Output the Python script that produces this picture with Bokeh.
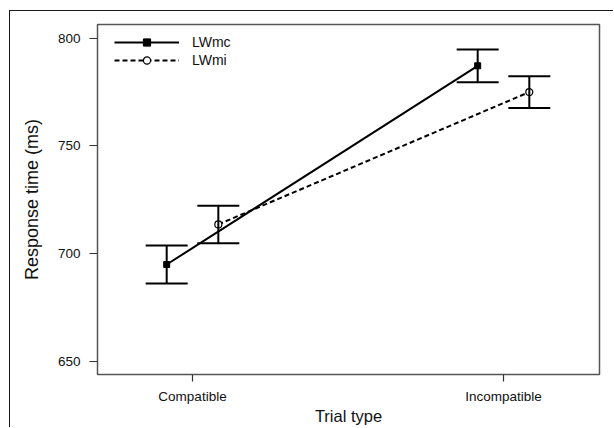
from bokeh.plotting import figure
from bokeh.models import (ColumnDataSource, Whisker, TeeHead, Legend, LegendItem,
                          FixedTicker, Range1d)
from bokeh.embed import file_html
from bokeh.resources import INLINE

# ---- data ----
categories = ["Compatible", "Incompatible"]
cat_pos = [1, 2]
lwmc_mean = [695.0, 787.2]
lwmc_err = [8.85, 7.6]
lwmi_mean = [713.6, 775.0]
lwmi_err = [8.7, 7.35]
y_ticks = [650, 700, 750, 800]
dodge = 0.083

FONT = "Liberation Sans"

p = figure(width=604, height=417,
           x_range=Range1d(0.6945, 2.3087), y_range=Range1d(643.97, 806.36),
           output_backend="svg", toolbar_location=None,
           min_border_left=87, min_border_right=15, min_border_top=13,
           min_border_bottom=54)
# outer figure border (only top/left edges are visible in the reference)
p.styles = {"margin-left": "9px", "margin-top": "10px",
            "border-left": "1px solid #1a1a1a", "border-top": "1px solid #1a1a1a"}

p.grid.visible = False
p.outline_line_color = "#555555"
p.outline_line_width = 1.5
p.background_fill_color = "white"
p.border_fill_color = "white"

# axes
for ax in (p.xaxis[0], p.yaxis[0]):
    ax.axis_line_color = None
    ax.major_tick_line_color = "#333333"
    ax.major_tick_line_width = 1.2
    ax.major_tick_in = 0
    ax.minor_tick_line_color = None
    ax.major_label_text_font = FONT
    ax.major_label_text_font_size = "13.5px"
    ax.major_label_text_color = "#111111"
    ax.axis_label_text_font = FONT
    ax.axis_label_text_font_style = "normal"
    ax.axis_label_text_color = "#111111"

p.xaxis.ticker = FixedTicker(ticks=cat_pos)
p.xaxis.major_label_overrides = {pos: name for pos, name in zip(cat_pos, categories)}
p.xaxis.axis_label = "Trial type"
p.xaxis.axis_label_text_font_size = "16.5px"
p.xaxis.major_tick_out = 7
p.xaxis.major_label_standoff = 7
p.xaxis.axis_label_standoff = 0

p.yaxis.ticker = FixedTicker(ticks=y_ticks)
p.yaxis.axis_label = "Response time (ms)"
p.yaxis.axis_label_text_font_size = "18px"
p.yaxis.major_tick_out = 8
p.yaxis.major_label_standoff = 9
p.yaxis.axis_label_standoff = 13

# data sources
x_mc = [c - dodge for c in cat_pos]
x_mi = [c + dodge for c in cat_pos]
src_mc = ColumnDataSource(dict(x=x_mc, y=lwmc_mean,
                               upper=[m + e for m, e in zip(lwmc_mean, lwmc_err)],
                               lower=[m - e for m, e in zip(lwmc_mean, lwmc_err)]))
src_mi = ColumnDataSource(dict(x=x_mi, y=lwmi_mean,
                               upper=[m + e for m, e in zip(lwmi_mean, lwmi_err)],
                               lower=[m - e for m, e in zip(lwmi_mean, lwmi_err)]))

l_mc = p.line("x", "y", source=src_mc, line_color="black", line_width=2)
l_mi = p.line("x", "y", source=src_mi, line_color="black", line_width=2,
              line_dash="5 3")

for src in (src_mc, src_mi):
    w = Whisker(source=src, base="x", upper="upper", lower="lower",
                dimension="height", line_color="black", line_width=2,
                upper_head=TeeHead(size=42, line_color="black", line_width=2),
                lower_head=TeeHead(size=42, line_color="black", line_width=2))
    w.level = "overlay"
    p.add_layout(w)

s_mc = p.scatter("x", "y", source=src_mc, marker="square", size=6,
                 fill_color="black", line_color="black", level="overlay")
s_mi = p.scatter("x", "y", source=src_mi, marker="circle", size=7,
                 fill_color="white", line_color="black", line_width=1.2,
                 level="overlay")

legend = Legend(items=[LegendItem(label="LWmc", renderers=[l_mc, s_mc]),
                       LegendItem(label="LWmi", renderers=[l_mi, s_mi])],
                location=(17, 305), border_line_color=None,
                background_fill_alpha=0, margin=0, padding=0, spacing=0,
                glyph_width=65, glyph_height=18, label_height=18,
                label_standoff=13, label_text_font=FONT,
                label_text_font_size="14px", label_text_color="#111111")
p.add_layout(legend, "center")

open("out.html", "w").write(file_html(p, INLINE))
